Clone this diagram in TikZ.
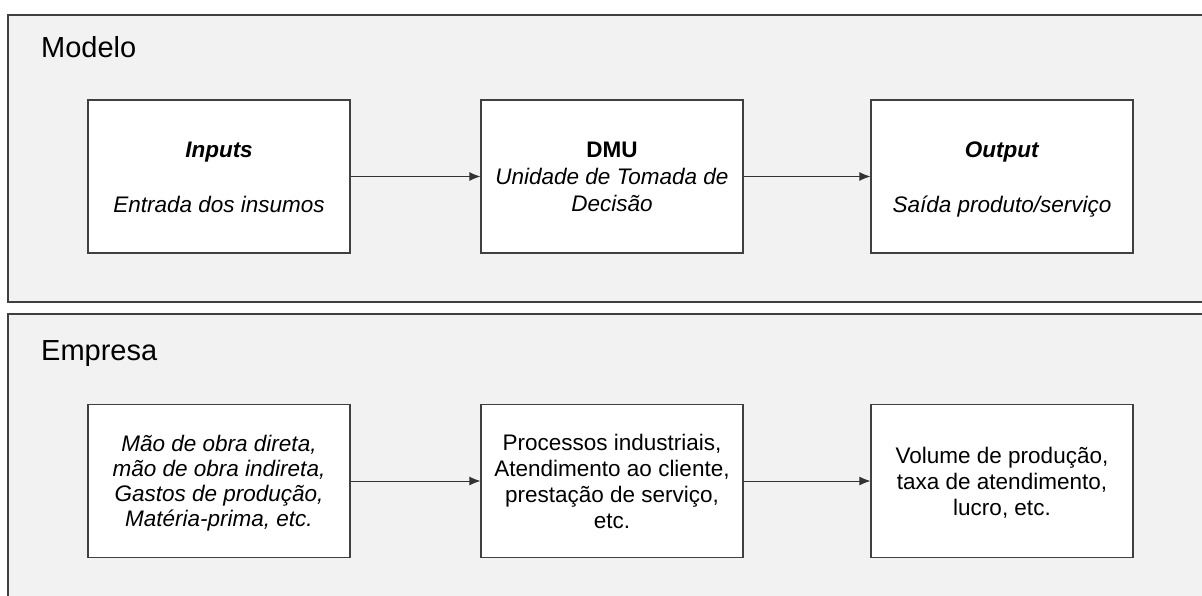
\documentclass[tikz,border=0pt]{standalone}
\usepackage{fontspec}
\setmainfont{Liberation Sans}
\usetikzlibrary{arrows.meta}

% cap-height prop so every block centres on its printed lines
\newcommand{\capline}{\rule{0pt}{16pt}}

\begin{document}
\begin{tikzpicture}[x=1pt,y=-1pt,
  panel/.style={draw=black!75, line width=1.3pt, fill=black!5},
  block/.style={draw=black!75, line width=1.3pt, fill=white,
    minimum width=262pt, minimum height=153pt, inner sep=0pt,
    text depth=0pt, align=center, font=\fontsize{22.5}{26}\selectfont},
  flow/.style={draw=black!80, line width=0.8pt, -{Latex[length=11pt,width=9pt]}},
  paneltitle/.style={anchor=base west, inner sep=0pt,
    font=\fontsize{29}{34}\selectfont}]

  \useasboundingbox (0,0) rectangle (1202,595);
  \clip (0,0) rectangle (1202,595);

  % the two panels, both running past the right edge
  \draw[panel] (8,15) rectangle (1215,302);
  \draw[panel] (8,314) rectangle (1215,610);

  \node[paneltitle] (tmodel) at (41,57) {Modelo};
  \node[paneltitle] (tfirm) at (41,360) {Empresa};

  % the model row
  \node[block] (inp) at (219,176.5)
    {\capline\textbf{\textit{Inputs}}\\[29pt]\textit{Entrada dos insumos}};
  \node[block] (dmu) at (612,176.5)
    {\capline\textbf{DMU}\\[1pt]\textit{Unidade de Tomada de}\\[1pt]\textit{Decisão}};
  \node[block] (out) at (1002,176.5)
    {\capline\textbf{\textit{Output}}\\[29pt]\textit{Saída produto/serviço}};

  % the company row
  \node[block] (finp) at (219,481)
    {\capline\textit{Mão de obra direta,}\\[-1pt]\textit{mão de obra indireta,}\\[-1pt]
     \textit{Gastos de produção,}\\[-1pt]\textit{Matéria-prima, etc.}};
  \node[block] (fdmu) at (612,481)
    {\capline Processos industriais,\\Atendimento ao cliente,\\prestação de serviço,\\etc.};
  \node[block] (fout) at (1002,481)
    {\capline Volume de produção,\\taxa de atendimento,\\lucro, etc.};

  \draw[flow] (inp) -- (dmu);
  \draw[flow] (dmu) -- (out);
  \draw[flow] (finp) -- (fdmu);
  \draw[flow] (fdmu) -- (fout);
\end{tikzpicture}
\end{document}
